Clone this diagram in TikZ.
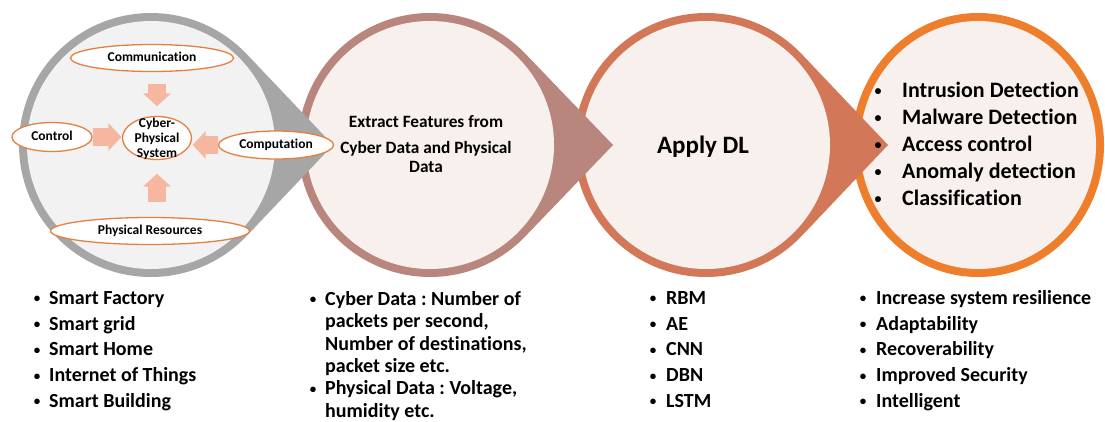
\documentclass[tikz,border=0pt]{standalone}
\usepackage{fontspec}
\setmainfont{Carlito}[Ligatures=NoCommon]
\usetikzlibrary{arrows.meta,shapes.geometric,calc}
\definecolor{ringgray}{RGB}{166,166,166}
\definecolor{fillgray}{RGB}{242,242,242}
\definecolor{ringbrown}{RGB}{184,134,124}
\definecolor{ringcopper}{RGB}{210,120,88}
\definecolor{ringorange}{RGB}{238,126,44}
\definecolor{filllight}{RGB}{247,240,236}
\definecolor{ellborder}{RGB}{228,128,64}
\definecolor{salmon}{RGB}{246,182,160}
\frenchspacing
\begin{document}
\begin{tikzpicture}[x=1pt,y=-1pt,
  oval/.style={ellipse, draw=ellborder, line width=1.3pt, fill=white, inner sep=0pt,
    font=\fontsize{13.5}{15}\selectfont\bfseries, text height=0.64em, text depth=0pt},
  cpstext/.style={inner sep=0pt, align=center, font=\fontsize{13.5}{15}\selectfont\bfseries},
  blockarrow/.style={draw=salmon, line width=18pt, -{Triangle[length=13pt,width=27pt]}},
  midtext/.style={inner sep=0pt, anchor=base, font=\fontsize{17.3}{19}\selectfont\bfseries},
  bigtext/.style={inner sep=0pt, anchor=base, font=\fontsize{25}{30}\selectfont\bfseries},
  outbul/.style={inner sep=0pt, anchor=base, font=\fontsize{14}{16}\selectfont\bfseries},
  outitem/.style={inner sep=0pt, anchor=base west, font=\fontsize{22}{26}\selectfont\bfseries},
  bul/.style={inner sep=0pt, anchor=base, font=\fontsize{13}{15}\selectfont\bfseries},
  item/.style={inner sep=0pt, anchor=base west, font=\fontsize{20}{24}\selectfont\bfseries}]
\useasboundingbox (0,0) rectangle (1105,421);
\fill[white] (0,0) rectangle (1105,421);

% circle 4 (orange)
\fill[ringorange] (978,145) ellipse [x radius=126, y radius=132];
\fill[filllight] (978,145) ellipse [x radius=118, y radius=124];
% circle 3 (copper) with tip
\fill[ringcopper] (888,145) -- ($(706,145)+(43.5:132)$) arc[start angle=43.5, end angle=316.5, radius=132] -- cycle;
\fill[filllight] (706,145) circle[radius=124];
% circle 2 (brown) with tip
\fill[ringbrown] (613,145) -- ($(430,145)+(43.85:132)$) arc[start angle=43.85, end angle=316.15, radius=132] -- cycle;
\fill[filllight] (430,145) circle[radius=124];
% circle 1 (gray) with tip
\fill[ringgray] (333,145) -- ($(151,145)+(43.5:132)$) arc[start angle=43.5, end angle=316.5, radius=132] -- cycle;
\fill[fillgray] (151,145) circle[radius=124];

% circle 1 contents
\node[oval, minimum width=163pt, minimum height=27pt] (comm) at (152,58) {Communication};
\node[oval, minimum width=80pt, minimum height=29pt] (ctrl) at (52,137) {Control};
\node[oval, minimum width=69pt, minimum height=43pt] (cps) at (157,138) {};
\node[cpstext] (cpst) at (157,138.5) {Cyber-\\Physical\\System};
\node[oval, minimum width=115pt, minimum height=28pt] (comp) at (276,145) {Computation};
\node[oval, minimum width=199pt, minimum height=27pt] (phys) at (150,231) {Physical Resources};

\draw[blockarrow, shorten <=11.5pt, shorten >=9.5pt] (cps.north |- comm.south) -- (cps.north);
\draw[blockarrow, shorten >=0.5pt] (ctrl.east) -- (ctrl.east -| cps.west);
\draw[blockarrow, shorten >=0.5pt] (comp.west) -- (comp.west -| cps.east);
\draw[blockarrow, shorten <=14.5pt, shorten >=13.5pt] (cps.south |- phys.north) -- (cps.south);

% circle 2 text
\node[midtext] (ext1) at (426,127.5) {Extract Features from};
\node[midtext] (ext2) at (426,153.5) {Cyber Data and Physical};
\node[midtext] (ext3) at (426,172.5) {Data};

% circle 3 text
\node[bigtext] (dl) at (703,153) {Apply DL};

% circle 4 list
\foreach \t [count=\i] in {Intrusion Detection, Malware Detection, Access control, Anomaly detection, Classification} {
  \node[outbul] (ob\i) at ({878},{68+27*\i}) {\textbullet};
  \node[outitem] (ot\i) at ({902},{70+27*\i}) {\t};
}

% bottom list 1
\foreach \t [count=\i] in {Smart Factory, Smart grid, Smart Home, Internet of Things, Smart Building} {
  \node[bul] (ab\i) at ({37},{277.2+25.7*\i}) {\textbullet};
  \node[item] (at\i) at ({49},{278.8+25.7*\i}) {\t};
}
% bottom list 2
\node[bul] (bb1) at (313,303.9) {\textbullet};
\node[item] (bt1) at (325,305.5) {Cyber Data : Number of};
\node[item] (bt2) at (325,327.8) {packets per second,};
\node[item] (bt3) at (325,350.1) {Number of destinations,};
\node[item] (bt4) at (325,372.4) {packet size etc.};
\node[bul] (bb5) at (313,393.1) {\textbullet};
\node[item] (bt5) at (325,394.7) {Physical Data : Voltage,};
\node[item] (bt6) at (325,417) {humidity etc.};
% bottom list 3
\foreach \t [count=\i] in {RBM, AE, CNN, DBN, LSTM} {
  \node[bul] (cb\i) at ({653},{277.2+25.7*\i}) {\textbullet};
  \node[item] (ct\i) at ({666},{278.8+25.7*\i}) {\t};
}
% bottom list 4
\foreach \t [count=\i] in {Increase system resilience, Adaptability, Recoverability, Improved Security, Intelligent} {
  \node[bul] (db\i) at ({863},{277.2+25.7*\i}) {\textbullet};
  \node[item] (dt\i) at ({876},{278.8+25.7*\i}) {\t};
}
\end{tikzpicture}
\end{document}
